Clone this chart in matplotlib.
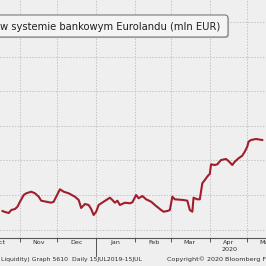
import matplotlib
matplotlib.use("Agg")
import matplotlib.pyplot as plt
import matplotlib.dates as mdates
import matplotlib.transforms as mtransforms
from matplotlib.patches import FancyBboxPatch
import datetime as dt

# ---- data ----
dates = ["2019-10-18", "2019-10-20", "2019-10-23", "2019-10-25", "2019-10-28", "2019-10-30",
         "2019-11-01", "2019-11-04", "2019-11-06", "2019-11-10", "2019-11-13", "2019-11-16",
         "2019-11-18", "2019-11-22", "2019-11-26", "2019-11-28", "2019-11-30", "2019-12-03",
         "2019-12-06", "2019-12-10", "2019-12-15", "2019-12-18", "2019-12-20", "2019-12-23",
         "2019-12-26", "2019-12-28", "2019-12-30", "2020-01-01", "2020-01-03", "2020-01-07",
         "2020-01-12", "2020-01-14", "2020-01-16", "2020-01-18", "2020-01-20", "2020-01-24",
         "2020-01-28", "2020-01-30", "2020-02-02", "2020-02-04", "2020-02-07", "2020-02-10",
         "2020-02-14", "2020-02-18", "2020-02-22", "2020-02-24", "2020-02-27", "2020-02-29",
         "2020-03-02", "2020-03-04", "2020-03-11", "2020-03-14", "2020-03-16", "2020-03-18",
         "2020-03-19", "2020-03-22", "2020-03-24", "2020-03-26", "2020-03-29", "2020-03-31",
         "2020-04-01", "2020-04-02", "2020-04-05", "2020-04-07", "2020-04-10", "2020-04-14",
         "2020-04-16", "2020-04-19", "2020-04-21", "2020-04-24", "2020-04-27", "2020-04-29",
         "2020-05-01", "2020-05-02", "2020-05-04", "2020-05-08", "2020-05-13"]
liquidity = [1707500, 1701700, 1696000, 1713300, 1719100, 1732400,
             1761300, 1800000, 1809800, 1819100, 1809800, 1790200,
             1767100, 1761300, 1755500, 1761300, 1790200, 1832900,
             1819100, 1809800, 1790200, 1771100, 1724900, 1748000,
             1742200, 1719100, 1684400, 1703500, 1742200, 1761300,
             1784400, 1771100, 1755500, 1767100, 1742200, 1755500,
             1752000, 1757800, 1800000, 1780900, 1794200, 1775100,
             1761300, 1736400, 1713300, 1703500, 1707500, 1713300,
             1790200, 1775100, 1771100, 1767100, 1713300, 1703500,
             1784400, 1775100, 1775100, 1867600, 1896500, 1915600,
             1921400, 1977400, 1973400, 1977400, 2002300, 2008100,
             1996500, 1973400, 1992500, 2012100, 2027200, 2050300,
             2079200, 2108100, 2117900, 2123700, 2117900]
month_labels = ["Oct", "Nov", "Dec", "Jan", "Feb", "Mar", "Apr", "May"]
year_label = "2020"
title = "w systemie bankowym Eurolandu (mln EUR)"
footer_left = "Liquidity) Graph 5610  Daily 15JUL2019-15JUL"
footer_right = "Copyright\u00a9 2020 Bloomberg Fi"

# ---- styling ----
W = H = 266
BG = "#efefef"
LINE = "#a11d2e"
GRID = "#c4c4c4"
TXT = "#2e2e2e"

def fx(px):
    return px / W

def fy(py):
    return 1 - py / H

fig = plt.figure(figsize=(2.66, 2.66), dpi=100, facecolor=BG)
ax = fig.add_axes([0, fy(238), 1, 238 / H])
ax.set_facecolor(BG)

x = [mdates.date2num(dt.date.fromisoformat(d)) for d in dates]
ax.plot(x, liquidity, color=LINE, lw=1.5, solid_joinstyle="round", zorder=3)

nov1 = mdates.date2num(dt.date(2019, 11, 1))
ax.set_xlim(nov1 - 14.1, nov1 + 194.6)
ax.set_ylim(1551500, 2927100)

# month boundaries
bounds = [mdates.date2num(dt.date(y, m, 1)) for y, m in
          [(2019, 11), (2019, 12), (2020, 1), (2020, 2), (2020, 3), (2020, 4), (2020, 5)]]
mids = [mdates.date2num(dt.date(y, m, 16)) for y, m in
        [(2019, 10), (2019, 11), (2019, 12), (2020, 1), (2020, 2), (2020, 3), (2020, 4), (2020, 5)]]
ax.set_xticks(bounds)
ax.set_xticklabels([])
ax.set_xticks(mids, minor=True)
ax.set_xticklabels(month_labels, minor=True, fontsize=4.6, color=TXT)
ax.tick_params(axis="x", which="major", length=3, width=0.7, color="#555555", direction="out")
ax.tick_params(axis="x", which="minor", length=0, pad=1.2)
ax.set_yticks([1600000, 1800000, 2000000, 2200000, 2400000, 2600000, 2800000])
ax.tick_params(axis="y", left=False, labelleft=False)

ax.grid(True, which="major", color=GRID, lw=0.7, ls=(0, (1.5, 1.5)))
for s in ["top", "right", "left"]:
    ax.spines[s].set_visible(False)
ax.spines["bottom"].set_color("#555555")
ax.spines["bottom"].set_linewidth(0.8)

# year separator at Jan 1
trans = mtransforms.blended_transform_factory(ax.transData, ax.transAxes)
jan1 = mdates.date2num(dt.date(2020, 1, 1))
ax.plot([jan1, jan1], [0, -18 / 238], transform=trans, color="#555555", lw=0.7, clip_on=False)

fig.text(fx(230), fy(249.5), year_label, ha="center", va="center", fontsize=4.6, color=TXT)
fig.text(fx(1), fy(259.5), footer_left, ha="left", va="center", fontsize=4.45, color=TXT)
fig.text(fx(167), fy(259.5), footer_right, ha="left", va="center", fontsize=4.6, color=TXT)

# title box
shadow = FancyBboxPatch((fx(-6) + 0.004, fy(37) - 0.004), fx(234), (37 - 15) / H,
                        boxstyle="round,pad=0,rounding_size=0.012",
                        transform=fig.transFigure, facecolor="#c8c8c8", edgecolor="none",
                        zorder=4)
box = FancyBboxPatch((fx(-6), fy(37)), fx(234), (37 - 15) / H,
                     boxstyle="round,pad=0,rounding_size=0.012",
                     transform=fig.transFigure, facecolor="#f4f4f4", edgecolor="#7a7a7a",
                     lw=0.8, zorder=5)
fig.patches.extend([shadow, box])
fig.text(fx(0.5), fy(26.5), title, ha="left", va="center", fontsize=7.2, color="#202020",
         zorder=6)

fig.savefig("out.png", dpi=100, facecolor=BG)
